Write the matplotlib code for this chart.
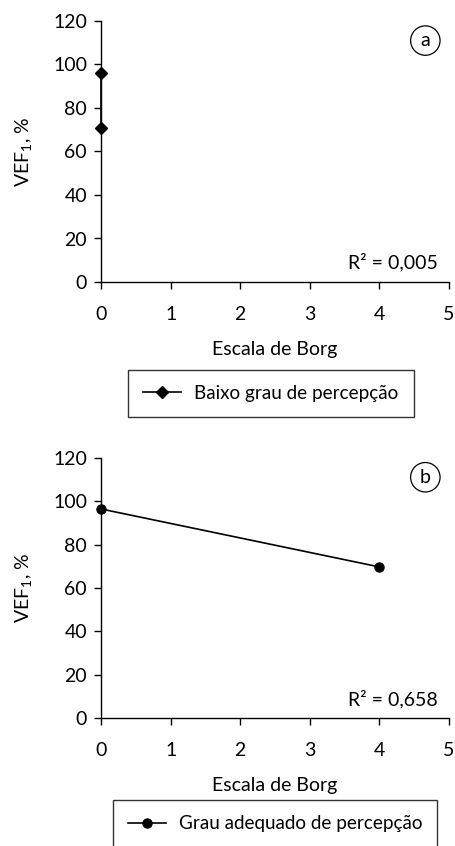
import matplotlib
matplotlib.use("Agg")
import matplotlib.pyplot as plt

plt.rcParams['font.family'] = ['Lato', 'DejaVu Sans']
plt.rcParams['mathtext.fontset'] = 'custom'
plt.rcParams['mathtext.rm'] = 'Lato'
plt.rcParams['mathtext.it'] = 'Lato:italic'
plt.rcParams['mathtext.bf'] = 'Lato:bold'

borg_a = [0, 0]
vef_a = [96.2, 70.7]
r2_a = "R² = 0,005"
label_a = "Baixo grau de percepção"

borg_b = [0, 4]
vef_b = [96.4, 69.7]
r2_b = "R² = 0,658"
label_b = "Grau adequado de percepção"

xticks = [0, 1, 2, 3, 4, 5]
yticks = [0, 20, 40, 60, 80, 100, 120]

FS = 14
LFS = 13.6
W, H = 455, 846
fig = plt.figure(figsize=(W/100, H/100), dpi=100)

def make_axes(bottom_px, top_px):
    left, right = 101, 449
    return fig.add_axes([left/W, 1 - bottom_px/H, (right-left)/W, (bottom_px-top_px)/H])

def style(ax, panel, r2):
    ax.set_xlim(0, 5)
    ax.set_ylim(0, 120)
    ax.set_xticks(xticks)
    ax.set_yticks(yticks)
    for s in ['top', 'right']:
        ax.spines[s].set_visible(False)
    for s in ['left', 'bottom']:
        ax.spines[s].set_linewidth(1.0)
    ax.tick_params(axis='both', direction='out', length=5, width=1, labelsize=FS, colors='black')
    ax.tick_params(axis='x', pad=12)
    ax.tick_params(axis='y', pad=5)
    ax.set_xlabel("Escala de Borg", fontsize=FS, labelpad=13)
    ax.set_ylabel("VEF$_\\mathrm{1}$, %", fontsize=FS, labelpad=14)
    ax.text(0.968, 0.04, r2, transform=ax.transAxes, ha='right', va='bottom', fontsize=FS)
    ax.text(0.932, 0.925, panel, transform=ax.transAxes, ha='center', va='center', fontsize=FS,
            bbox=dict(boxstyle='circle,pad=0.32', fc='white', ec='black', lw=0.9))

ax1 = make_axes(282, 21)
ax1.plot(borg_a, vef_a, color='black', lw=1.2, marker='D', ms=6.5, label=label_a, clip_on=False)
style(ax1, 'a', r2_a)
leg1 = fig.legend(handles=ax1.get_lines(), labels=[label_a], loc='center',
                  bbox_to_anchor=(271/W, 1 - 393.5/H), fontsize=LFS, frameon=True,
                  fancybox=False, edgecolor='black', borderpad=0.8, handlelength=2.0,
                  handletextpad=0.7, borderaxespad=0)
leg1.get_frame().set_linewidth(1.0)

ax2 = make_axes(718.3, 457.7)
ax2.plot(borg_b, vef_b, color='black', lw=1.2, marker='o', ms=6.5, label=label_b, clip_on=False)
style(ax2, 'b', r2_b)
leg2 = fig.legend(handles=ax2.get_lines(), labels=[label_b], loc='upper center',
                  bbox_to_anchor=(275/W, 1 - 800/H), fontsize=LFS, frameon=True,
                  fancybox=False, edgecolor='black', borderpad=0.8, handlelength=2.0,
                  handletextpad=0.7, borderaxespad=0)
leg2.get_frame().set_linewidth(1.0)

fig.savefig("out.png", dpi=100, facecolor='white')
